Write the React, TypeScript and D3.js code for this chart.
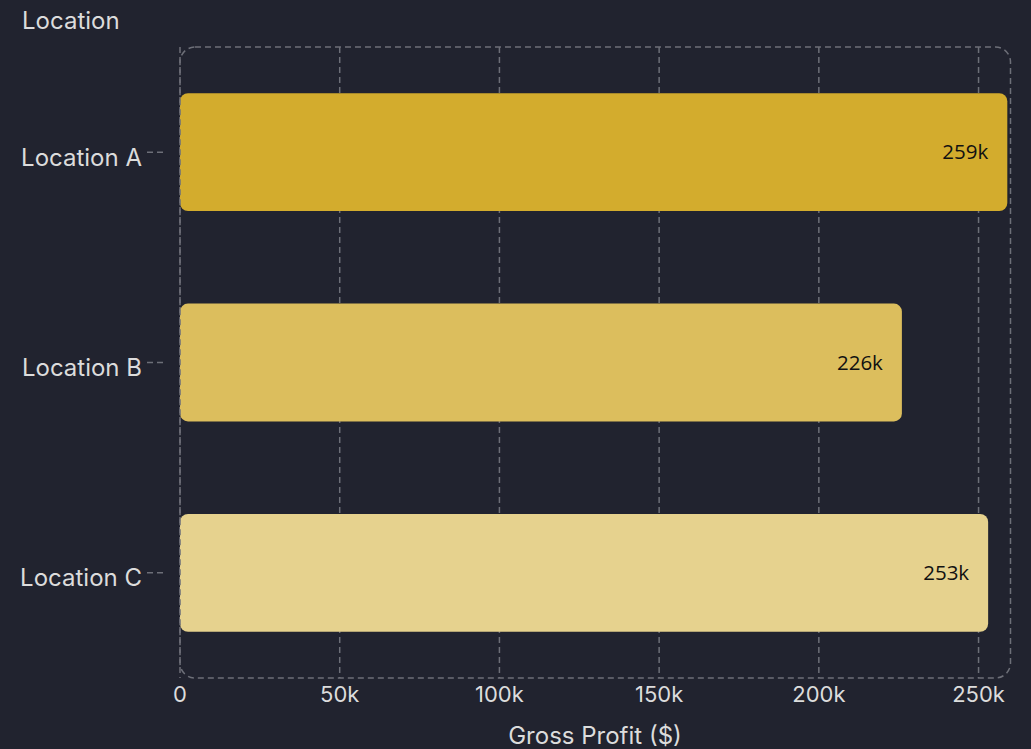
import React from "react";
import * as d3 from "d3";

const categories = ["Location A", "Location B", "Location C"];
const values = [259000, 226000, 253000];
const barColors = ["#d3ac2d", "#dcbe5d", "#e6d28e"];
const xTicks = [0, 50000, 100000, 150000, 200000, 250000];
const xTickLabels = ["0", "50k", "100k", "150k", "200k", "250k"];
const barLabels = ["259k", "226k", "253k"];

const W = 1031;
const H = 749;
const left = 180;
const right = 1010.5;
const top = 47;
const bottom = 678;
const bg = "#21232f";
const gridColor = "#6d6f78";
const textColor = "#dcdcdc";
const font = "Inter, 'Noto Sans', sans-serif";

export default function App() {
  const x = d3.scaleLinear().domain([0, 260000]).range([left, right]);
  const y = d3.scaleBand<string>().domain(categories).range([top, bottom]).paddingInner(0.44).paddingOuter(0.22);
  return (
    <svg width={W} height={H} style={{ position: "absolute", left: 0, top: 0, display: "block", background: bg }}>
      <rect x={0} y={0} width={W} height={H} fill={bg} />
      {xTicks.map((t, i) => (
        <line key={"g" + i} x1={x(t)} x2={x(t)} y1={top} y2={bottom} stroke={gridColor} strokeWidth={1.5} strokeDasharray="6,4" />
      ))}
      {categories.map((c, i) => {
        const cy = (y(c) as number) + y.bandwidth() / 2;
        return <line key={"yt" + i} x1={147} x2={166} y1={cy} y2={cy} stroke={gridColor} strokeWidth={1.5} strokeDasharray="6,4" />;
      })}
      {categories.map((c, i) => (
        <rect key={"b" + i} x={x(0)} y={y(c)} width={x(values[i]) - x(0)} height={y.bandwidth()} rx={8} ry={8} fill={barColors[i]} />
      ))}
      <rect x={left} y={top} width={right - left} height={bottom - top} rx={15} ry={15} fill="none" stroke={gridColor} strokeWidth={1.5} strokeDasharray="6,4" />
      {categories.map((c, i) => (
        <text key={"bl" + i} x={x(values[i]) - 19} y={(y(c) as number) + y.bandwidth() / 2} dy="0.35em" textAnchor="end" fill="#111" fontSize={20.5} fontFamily="'Open Sans', 'Noto Sans', sans-serif">
          {barLabels[i]}
        </text>
      ))}
      {categories.map((c, i) => (
        <text key={"yl" + i} x={142} y={(y(c) as number) + y.bandwidth() / 2 + 5} dy="0.35em" textAnchor="end" fill={textColor} fontSize={24} fontFamily={font}>
          {c}
        </text>
      ))}
      {xTicks.map((t, i) => (
        <text key={"xl" + i} x={x(t)} y={694} dy="0.35em" textAnchor="middle" fill={textColor} fontSize={22} fontFamily={font}>
          {xTickLabels[i]}
        </text>
      ))}
      <text x={22} y={21} dy="0.35em" fill={textColor} fontSize={24} fontFamily={font}>Location</text>
      <text x={595} y={736} dy="0.35em" textAnchor="middle" fill={textColor} fontSize={24} fontFamily={font}>Gross Profit ($)</text>
    </svg>
  );
}
